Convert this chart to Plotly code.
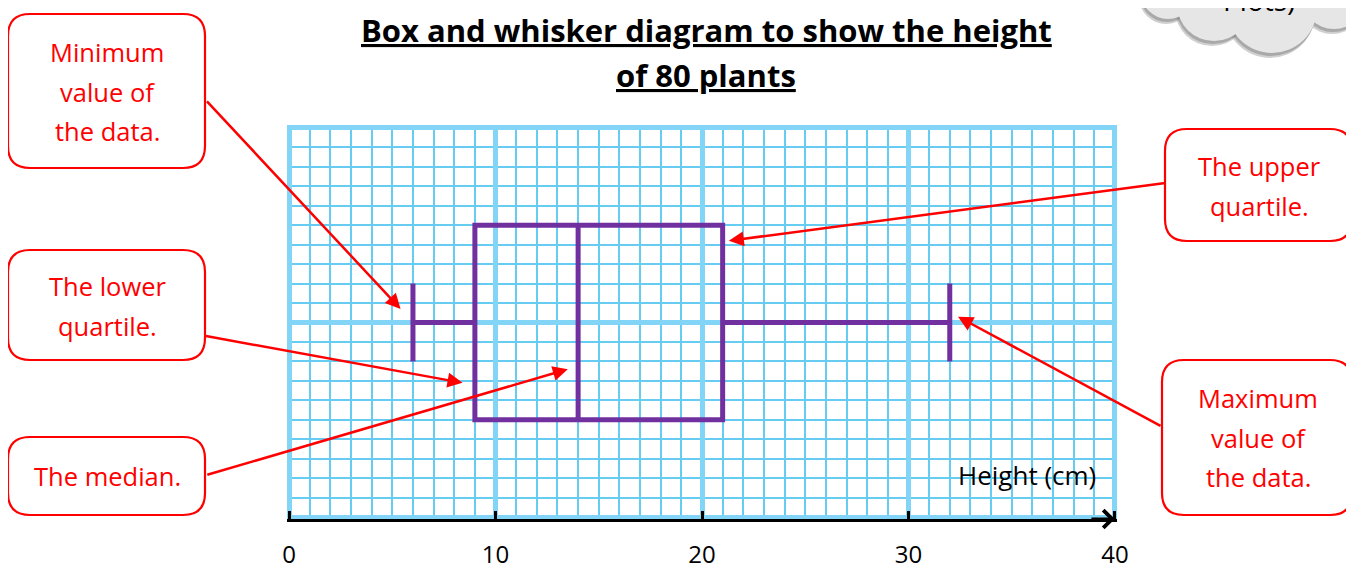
import plotly.graph_objects as go

# data: five number summary of plant heights (cm)
box_position = [10]
lower_fence = [6]
q1 = [9]
median = [14]
q3 = [21]
upper_fence = [32]

tick_vals = [0, 10, 20, 30, 40]
tick_text = ["0", "10", "20", "30", "40"]

callout_text = [
    ["Minimum", "value of", "the data."],
    ["The lower", "quartile."],
    ["The median."],
    ["The upper", "quartile."],
    ["Maximum", "value of", "the data."],
]

RED = "#FF0000"
PURPLE = "#7030A0"
FONT = "Open Sans"

# the page body adds an 8px margin, so layout pixels are shifted back by it
OFF = 8
# plot area in screen pixels (used to place the decorations)
L, T, W, H = 287, 126, 830, 393


def px(x):
    return (x - L) / W


def py(y):
    return (T + H - y) / H


def rounded(x0, y0, x1, y1, r=22):
    a, b, c, d = px(x0), px(x1), py(y0), py(y1)
    rx, ry = r / W, r / H
    return (f"M{a+rx},{c} L{b-rx},{c} Q{b},{c} {b},{c-ry} L{b},{d+ry} Q{b},{d} {b-rx},{d} "
            f"L{a+rx},{d} Q{a},{d} {a},{d+ry} L{a},{c-ry} Q{a},{c} {a+rx},{c} Z")


fig = go.Figure()

fig.add_trace(go.Box(
    y=box_position, q1=q1, median=median, q3=q3,
    lowerfence=lower_fence, upperfence=upper_fence,
    orientation="h", width=10, whiskerwidth=0.4,
    line=dict(color=PURPLE, width=5),
    fillcolor="rgba(0,0,0,0)", boxpoints=False,
    showlegend=False, hoverinfo="skip",
))

shapes = []
annotations = []

# callout boxes: (box px, text centre x, first line y)
boxes = [
    ((8, 14, 205, 168), 107, 52),
    ((8, 250, 205, 360), 107, 286),
    ((8, 437, 205, 515), 107, 476),
    ((1165, 129, 1352, 241), 1259, 166),
    ((1162, 360, 1352, 515), 1258, 398),
]
for (bx, cx, ly), lines in zip(boxes, callout_text):
    shapes.append(dict(type="path", xref="paper", yref="paper", path=rounded(*bx),
                       line=dict(color=RED, width=2.2), fillcolor="white"))
    for i, t in enumerate(lines):
        annotations.append(dict(xref="paper", yref="paper", x=px(cx), y=py(ly + i * 39.5),
                                text=t, showarrow=False, xanchor="center", yanchor="middle",
                                font=dict(family=FONT, size=25.5, color=RED)))

# arrows from callouts to the stats (tip in data units, tail offset in px)
tips = [
    (lower_fence[0] - 0.6, box_position[0] + 0.7, -195, -209),
    (q1[0] - 0.6, box_position[0] - 3.1, -258, -47),
    (median[0] - 0.5, box_position[0] - 2.4, -362, 106),
    (q3[0] + 0.3, box_position[0] + 4.2, 438, -58),
    (upper_fence[0] + 0.4, box_position[0] + 0.3, 204, 110),
]
for x, y, ax, ay in tips:
    annotations.append(dict(x=x, y=y, xref="x", yref="y", ax=ax, ay=ay, text="",
                            showarrow=True, arrowhead=2, arrowsize=1.2, arrowwidth=2.5,
                            arrowcolor=RED))

# axis arrow head
annotations.append(dict(x=tick_vals[-1], y=-0.1, xref="x", yref="y", ax=-25, ay=0, text="",
                        showarrow=True, arrowhead=4, arrowsize=1.15, arrowwidth=3,
                        arrowcolor="black"))

annotations.append(dict(xref="paper", yref="paper", x=px(1027), y=py(475), text="Height (cm)",
                        showarrow=False, xanchor="center", yanchor="middle",
                        font=dict(family=FONT, size=26, color="black")))

# title
for t, yy in [("<b><u>Box and whisker diagram to show the height</u></b>", 30),
              ("<b><u>of 80 plants</u></b>", 75)]:
    annotations.append(dict(xref="paper", yref="paper", x=px(706), y=py(yy), text=t,
                            showarrow=False, yanchor="middle",
                            font=dict(family=FONT, size=31, color="black")))

# cloud in the top-right corner
cloud = [(1168, -8, 27), (1214, 4, 37), (1272, 8, 45), (1334, -4, 33), (1250, -20, 45)]
for dx, dy, fill in [(-2, 5, "rgba(150,150,150,0.45)"), (-1, 3, "rgba(130,130,130,0.5)"),
                     (0, 0, "#E6E6E6")]:
    for cx, cy, r in cloud:
        shapes.append(dict(type="circle", xref="paper", yref="paper",
                           x0=px(cx - r + dx), x1=px(cx + r + dx),
                           y0=py(cy + r + dy), y1=py(cy - r + dy),
                           line=dict(width=0), fillcolor=fill))
annotations.append(dict(xref="paper", yref="paper", x=px(1259), y=py(0), text="Plots)",
                        showarrow=False, xanchor="center", yanchor="middle",
                        font=dict(family=FONT, size=28, color="black")))

fig.update_layout(
    width=1354, height=565,
    margin=dict(l=L - OFF, r=1354 - (L - OFF) - W, t=T - OFF, b=565 - (T - OFF) - H),
    paper_bgcolor="white", plot_bgcolor="white",
    shapes=shapes, annotations=annotations,
    xaxis=dict(
        range=[-0.1, 40.1], tickmode="array", tickvals=tick_vals, ticktext=tick_text,
        showgrid=True, gridcolor="#82D5F7", gridwidth=5,
        zeroline=False, automargin=False,
        minor=dict(dtick=1, tick0=0, showgrid=True, gridcolor="#66CCF2", gridwidth=1.8),
        showline=True, linecolor="black", linewidth=3,
        ticks="inside", ticklen=8, tickwidth=3, tickcolor="black",
        ticklabelstandoff=12,
        tickfont=dict(family=FONT, size=24, color="black"),
        fixedrange=True,
    ),
    yaxis=dict(
        range=[-0.1, 20.1], dtick=10, tick0=0, showticklabels=False,
        showgrid=True, gridcolor="#82D5F7", gridwidth=5, zeroline=False, automargin=False,
        minor=dict(dtick=1, tick0=0, showgrid=True, gridcolor="#66CCF2", gridwidth=1.8),
        showline=False, fixedrange=True,
    ),
)

fig.write_html("out.html")
